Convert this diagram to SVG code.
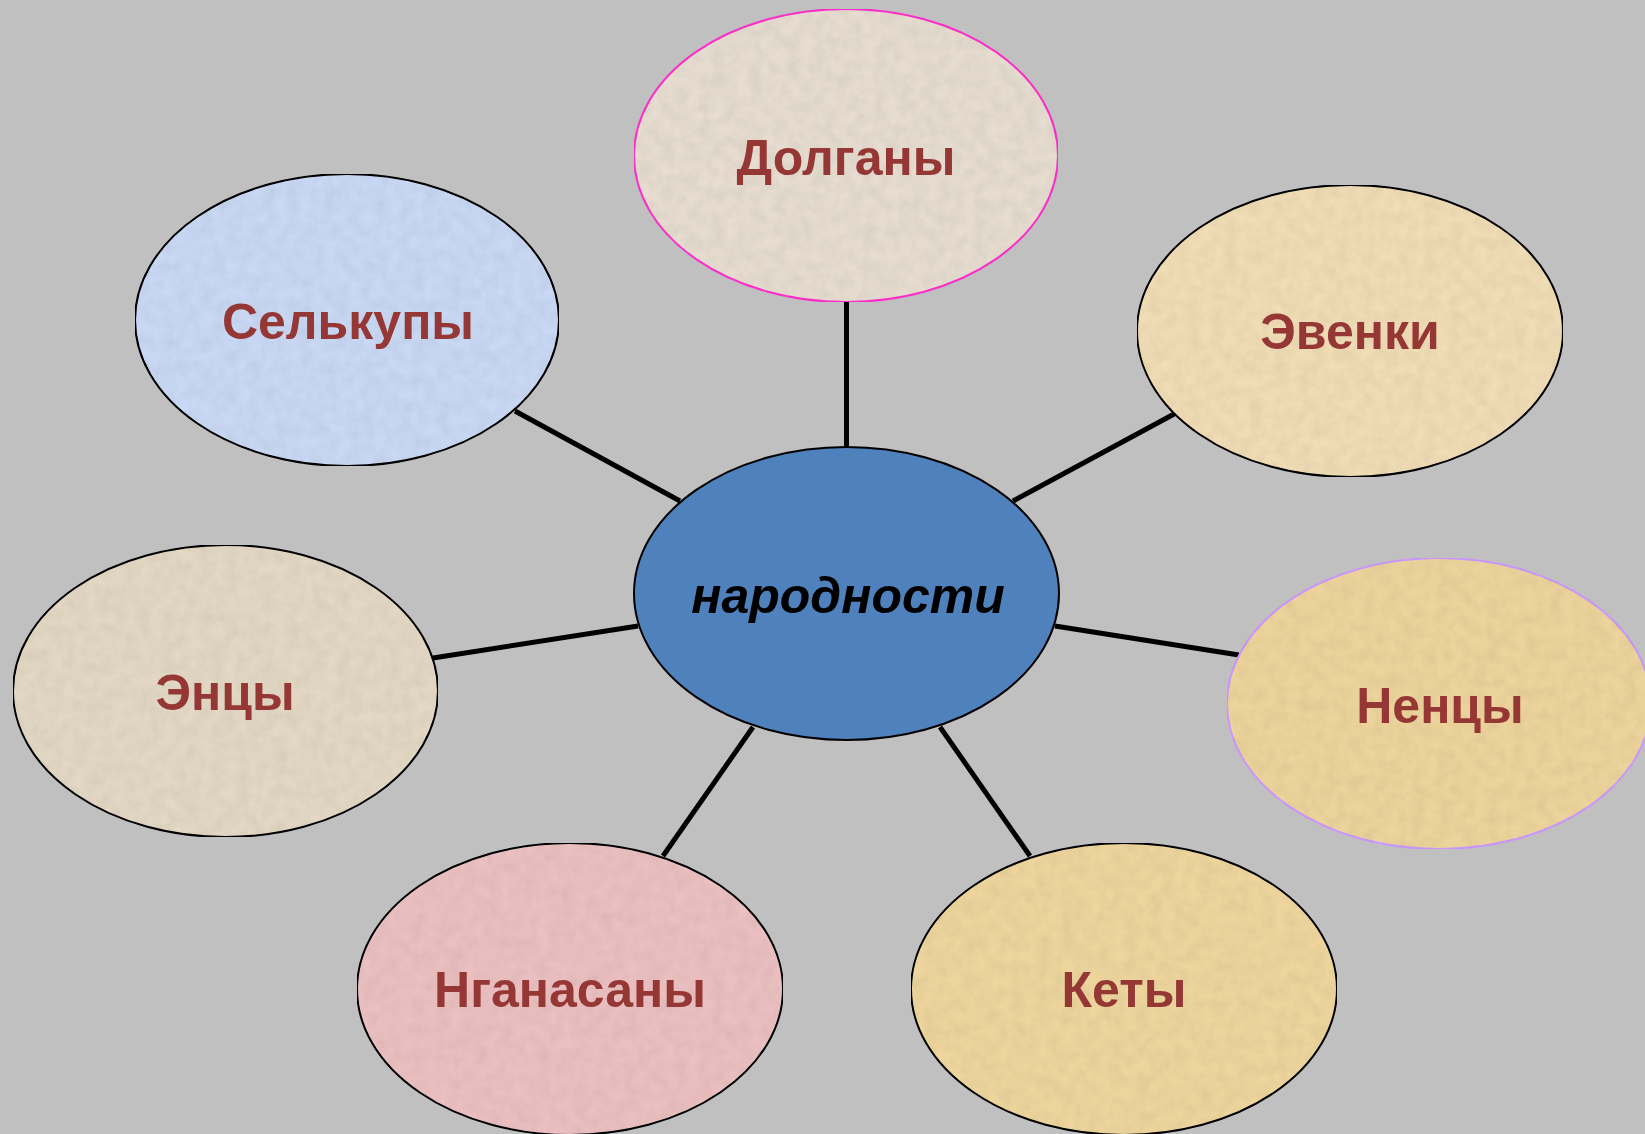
<svg xmlns="http://www.w3.org/2000/svg" width="1645" height="1134" viewBox="0 0 1645 1134">
  <defs>
    <style>
      .node { stroke: #000000; stroke-width: 2; }
      .lbl { font-family: "Liberation Sans", Arial, sans-serif; font-weight: bold; font-size: 50px; fill: #953735; text-anchor: middle; }
      .center-lbl { font-family: "Liberation Sans", Arial, sans-serif; font-weight: bold; font-style: italic; font-size: 50px; fill: #000000; text-anchor: middle; }
      .conn { stroke: #000000; stroke-width: 5; fill: none; }
    </style>
    <filter id="tex" x="0" y="0" width="100%" height="100%">
      <feTurbulence type="fractalNoise" baseFrequency="0.08" numOctaves="3" seed="4" result="n"/>
      <feColorMatrix in="n" type="matrix" values="0 0 0 0 0  0 0 0 0 0  0 0 0 0 0  0 0 0 0.18 -0.05" result="d"/>
      <feComposite in="d" in2="SourceGraphic" operator="in" result="dd"/>
      <feMerge><feMergeNode in="SourceGraphic"/><feMergeNode in="dd"/></feMerge>
    </filter>
  </defs>
  <rect x="0" y="0" width="1645" height="1134" fill="#C0C0C0"/>
  <g id="connectors">
    <line class="conn" x1="846.5" y1="302" x2="846.5" y2="448"/>
    <line class="conn" x1="515" y1="411" x2="680" y2="501"/>
    <line class="conn" x1="1176" y1="413" x2="1013" y2="501"/>
    <line class="conn" x1="433" y1="658" x2="638" y2="626"/>
    <line class="conn" x1="1055" y1="626" x2="1239" y2="655"/>
    <line class="conn" x1="753" y1="727" x2="663" y2="856"/>
    <line class="conn" x1="940" y1="727" x2="1030" y2="856"/>
  </g>
  <g id="node-center">
    <ellipse class="node" cx="846.5" cy="593.5" rx="212.5" ry="146.5" fill="#4F81BD"/>
    <text class="center-lbl" x="848" y="613">народности</text>
  </g>
  <g id="node-dolgany">
    <ellipse cx="846" cy="155.5" rx="212" ry="146.5" fill="#E6DDD0" stroke="#FF33CC" stroke-width="2" filter="url(#tex)"/>
    <text class="lbl" x="846" y="175">Долганы</text>
  </g>
  <g id="node-selkupy">
    <ellipse class="node" cx="347" cy="320" rx="212" ry="146" fill="#C9D8F4" filter="url(#tex)"/>
    <text class="lbl" x="348" y="339">Селькупы</text>
  </g>
  <g id="node-evenki">
    <ellipse class="node" cx="1350" cy="331" rx="213" ry="146" fill="#F0DDB6" filter="url(#tex)"/>
    <text class="lbl" x="1350" y="349">Эвенки</text>
  </g>
  <g id="node-entsy">
    <ellipse class="node" cx="225.5" cy="691" rx="212.5" ry="146" fill="#E3D8C4" filter="url(#tex)"/>
    <text class="lbl" x="225" y="710">Энцы</text>
  </g>
  <g id="node-nentsy">
    <ellipse cx="1439" cy="703.5" rx="212" ry="145.5" fill="#EDD49C" stroke="#CC99FF" stroke-width="2" filter="url(#tex)"/>
    <text class="lbl" x="1440" y="723">Ненцы</text>
  </g>
  <g id="node-nganasany">
    <ellipse class="node" cx="570" cy="989" rx="213" ry="146" fill="#EBC0C1" filter="url(#tex)"/>
    <text class="lbl" x="570" y="1007">Нганасаны</text>
  </g>
  <g id="node-kety">
    <ellipse class="node" cx="1124" cy="989" rx="213" ry="146" fill="#EED59E" filter="url(#tex)"/>
    <text class="lbl" x="1124" y="1007">Кеты</text>
  </g>
</svg>
